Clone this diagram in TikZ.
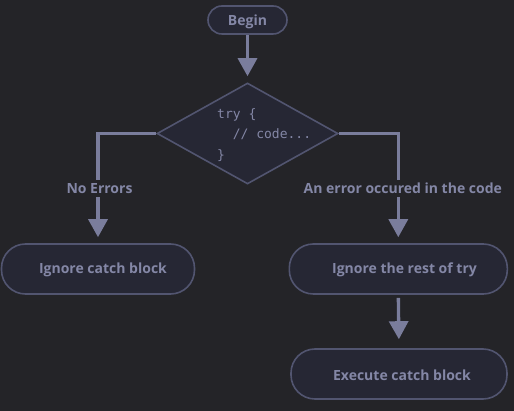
\documentclass[tikz,border=0pt]{standalone}
\usepackage{fontspec}
\setmainfont{Open Sans}
\setmonofont{DejaVu Sans Mono}
\usetikzlibrary{shapes.geometric,arrows.meta}
\definecolor{bgc}{RGB}{36,36,40}
\definecolor{nodefill}{RGB}{38,39,52}
\definecolor{nodeborder}{RGB}{82,85,112}
\definecolor{linec}{RGB}{122,125,156}
\definecolor{textc}{RGB}{132,135,166}
\tikzset{
  pill/.style={draw=nodeborder, fill=nodefill, line width=1.6pt, rectangle, rounded corners=24pt, inner sep=0pt},
  lbl/.style={text=textc, font=\bfseries\fontsize{14}{16}\selectfont, inner sep=1pt, yshift=-1.5pt},
  edgelbl/.style={lbl, fill=bgc, inner sep=3pt},
  conn/.style={draw=linec, line width=3.3pt, -{Triangle[length=18pt,width=19pt]}, shorten >=6pt},
}
\begin{document}
\begin{tikzpicture}[x=1pt,y=-1pt]
\fill[bgc] (0,0) rectangle (514,411);
\useasboundingbox (0,0) rectangle (514,411);

% nodes
\node[pill, rounded corners=14pt, minimum width=79pt, minimum height=28pt] (begin) at (247.5,20) {};
\node[lbl] (begint) at (247.5,20) {Begin};

\node[draw=nodeborder, fill=nodefill, line width=1.6pt, diamond, minimum width=181pt, minimum height=101pt, inner sep=0pt] (try) at (247.5,133.5) {};
\node[anchor=west, text=textc, font=\ttfamily\fontsize{13}{20.5}\selectfont, align=left, inner sep=0pt] (code) at (217,135) {try \{\\\ \ // code...\\\}};

\node[pill, minimum width=193pt, minimum height=50pt] (ic) at (98,269) {};
\node[lbl] (ict) at (103,268) {Ignore catch block};

\node[pill, minimum width=218pt, minimum height=50pt] (ir) at (398.3,269) {};
\node[lbl] (irt) at (404.5,268) {Ignore the rest of try};

\node[pill, minimum width=216pt, minimum height=50pt] (ex) at (399,374) {};
\node[lbl] (ext) at (402,374) {Execute catch block};

% connectors
\draw[conn] (begin.south) -- (try.north);
\draw[conn] (try.west) -| (ic.north);
\draw[conn] (try.east) -| (ir.north);
\draw[conn, shorten >=9pt, shorten <=3pt] (ir.south) -- (ex.north);

% edge labels
\node[edgelbl] (ne) at (99.5,187) {No Errors};
\node[edgelbl] (err) at (402.8,187) {An error occured in the code};
\end{tikzpicture}
\end{document}
